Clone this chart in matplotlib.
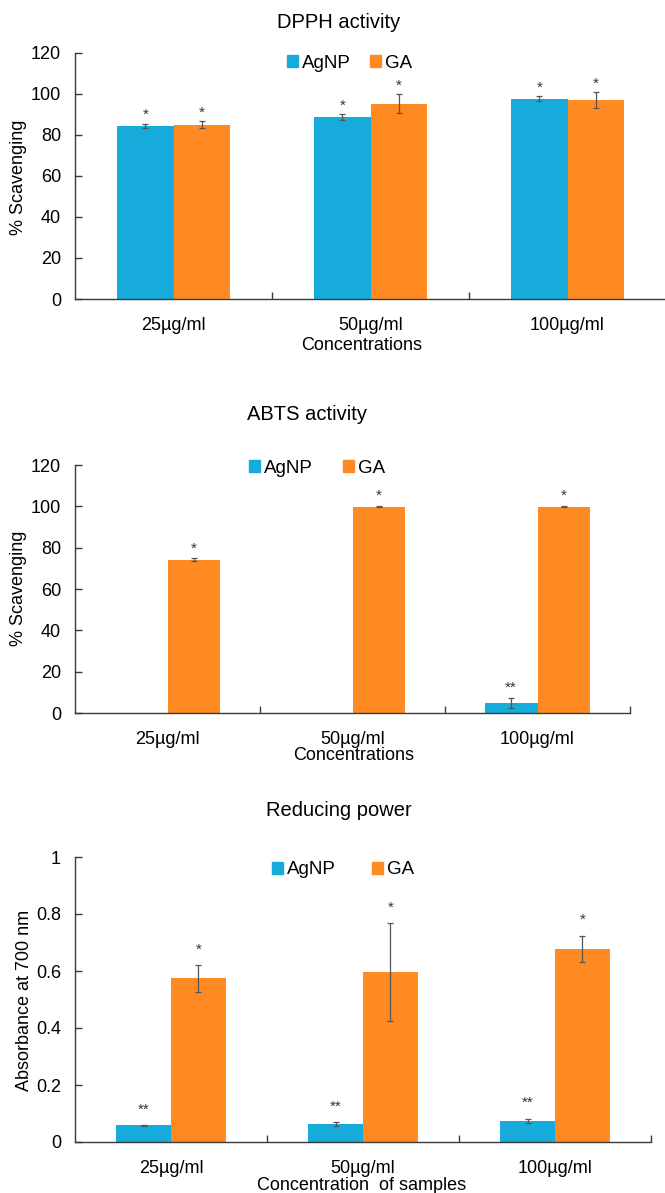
import numpy as np
import matplotlib
matplotlib.use("Agg")
import matplotlib.pyplot as plt
import matplotlib.patches as mpatches

plt.rcParams['font.family'] = ['Liberation Sans', 'DejaVu Sans']

# data
categories = ['25µg/ml', '50µg/ml', '100µg/ml']
series = ['AgNP', 'GA']

dpph_agnp = [84.5, 88.7, 97.8]
dpph_agnp_err = [1.1, 1.3, 1.1]
dpph_ga = [85.0, 95.3, 97.0]
dpph_ga_err = [1.6, 4.5, 4.0]
dpph_agnp_sig = ['*', '*', '*']
dpph_ga_sig = ['*', '*', '*']

abts_agnp = [0, 0, 5.0]
abts_agnp_err = [0, 0, 2.4]
abts_ga = [74.2, 99.8, 99.8]
abts_ga_err = [0.6, 0.3, 0.3]
abts_agnp_sig = ['', '', '**']
abts_ga_sig = ['*', '*', '*']

rp_agnp = [0.058, 0.063, 0.074]
rp_agnp_err = [0.002, 0.006, 0.008]
rp_ga = [0.574, 0.597, 0.677]
rp_ga_err = [0.047, 0.171, 0.047]
rp_agnp_sig = ['**', '**', '**']
rp_ga_sig = ['*', '*', '*']

blue = '#17ABDB'
orange = '#FF8A22'
axcol = '#3a3a3a'

W, H = 665, 1193
fig = plt.figure(figsize=(W / 100, H / 100), dpi=100)


def px_axes(left, right, y0, ytop):
  return fig.add_axes([left / W, (H - y0) / H, (right - left) / W, (y0 - ytop) / H])


def draw_panel(ax, agnp, agnp_err, ga, ga_err, sig_a, sig_g, ymax, ystep, yfmt, star_gap):
  x = np.arange(len(categories))
  bw = 0.285
  ax.bar(x - bw / 2, agnp, bw, color=blue, label='AgNP')
  ax.bar(x + bw / 2, ga, bw, color=orange, label='GA')
  for xs, vals, errs, sigs in [(x - bw / 2, agnp, agnp_err, sig_a), (x + bw / 2, ga, ga_err, sig_g)]:
    for xi, v, e, s in zip(xs, vals, errs, sigs):
      if e > 0:
        ax.errorbar(xi, v, yerr=e, fmt='none', ecolor='#555555', elinewidth=0.9, capsize=2.5, capthick=0.9)
      if s:
        ax.text(xi, v + e + star_gap, s, ha='center', va='bottom', fontsize=11, color='#333333')
  ax.set_xlim(-0.5, len(categories) - 0.5)
  ax.set_ylim(0, ymax)
  ax.set_yticks(np.arange(0, ymax + ystep / 2, ystep))
  ax.set_yticklabels([yfmt(v) for v in np.arange(0, ymax + ystep / 2, ystep)])
  ax.set_xticks(x)
  ax.set_xticklabels(categories)
  ax.set_xticks([0.5, 1.5, 2.5], minor=True)
  ax.tick_params(axis='x', which='major', length=0, pad=13, labelsize=13)
  ax.tick_params(axis='x', which='minor', direction='in', length=5, color=axcol, width=1)
  ax.tick_params(axis='y', direction='in', length=5, color=axcol, width=1, pad=10, labelsize=13)
  for s in ['top', 'right']:
    ax.spines[s].set_visible(False)
  for s in ['left', 'bottom']:
    ax.spines[s].set_color(axcol)
    ax.spines[s].set_linewidth(1)


def legend_at(ax, xa, xg, y):
  # legend handles placed in pixel positions
  h = [mpatches.Patch(color=blue), mpatches.Patch(color=orange)]
  leg1 = ax.legend([h[0]], ['AgNP'], loc='center left', bbox_to_anchor=(xa / W, 1 - y / H),
                   bbox_transform=fig.transFigure, frameon=False, fontsize=13.5,
                   handlelength=0.6, handleheight=0.6, handletextpad=0.2, borderpad=0, borderaxespad=0)
  ax.add_artist(leg1)
  ax.legend([h[1]], ['GA'], loc='center left', bbox_to_anchor=(xg / W, 1 - y / H),
            bbox_transform=fig.transFigure, frameon=False, fontsize=13.5,
            handlelength=0.6, handleheight=0.6, handletextpad=0.2, borderpad=0, borderaxespad=0)


int_fmt = lambda v: '%d' % round(v)
dec_fmt = lambda v: ('%g' % round(v, 1))

# DPPH
ax1 = px_axes(75, 666, 299, 53)
draw_panel(ax1, dpph_agnp, dpph_agnp_err, dpph_ga, dpph_ga_err, dpph_agnp_sig, dpph_ga_sig, 120, 20, int_fmt, 0.8)
fig.text(339 / W, 1 - 23 / H, 'DPPH activity', ha='center', va='center', fontsize=14.5)
fig.text(362 / W, 1 - 345 / H, 'Concentrations', ha='center', va='center', fontsize=13)
fig.text(19 / W, 1 - 177 / H, '% Scavenging', ha='center', va='center', rotation=90, fontsize=13)
legend_at(ax1, 287, 370, 63)

# ABTS
ax2 = px_axes(75, 630, 713, 465)
draw_panel(ax2, abts_agnp, abts_agnp_err, abts_ga, abts_ga_err, abts_agnp_sig, abts_ga_sig, 120, 20, int_fmt, 1.5)
fig.text(307 / W, 1 - 415 / H, 'ABTS activity', ha='center', va='center', fontsize=14.5)
fig.text(354 / W, 1 - 756 / H, 'Concentrations', ha='center', va='center', fontsize=13)
fig.text(19 / W, 1 - 588 / H, '% Scavenging', ha='center', va='center', rotation=90, fontsize=13)
legend_at(ax2, 249, 343, 468)

# Reducing power
ax3 = px_axes(75, 651, 1142, 857)
draw_panel(ax3, rp_agnp, rp_agnp_err, rp_ga, rp_ga_err, rp_agnp_sig, rp_ga_sig, 1.0, 0.2, dec_fmt, 0.03)
fig.text(339 / W, 1 - 811 / H, 'Reducing power', ha='center', va='center', fontsize=14.5)
fig.text(362 / W, 1 - 1186 / H, 'Concentration  of samples', ha='center', va='center', fontsize=13)
fig.text(25 / W, 1 - 1000 / H, 'Absorbance at 700 nm', ha='center', va='center', rotation=90, fontsize=13)
legend_at(ax3, 272, 372, 870)

fig.savefig('out.png', dpi=100)
